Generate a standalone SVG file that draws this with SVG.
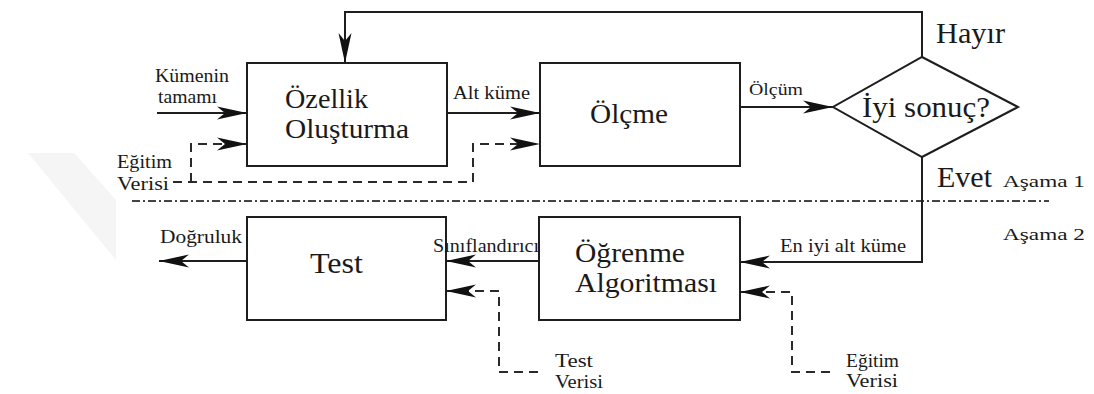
<svg xmlns="http://www.w3.org/2000/svg" width="1094" height="394" viewBox="0 0 1094 394" font-family="'Liberation Serif', Tinos, 'Times New Roman', serif">
  <style>
    .box { fill: none; stroke: #1e1e1e; stroke-width: 2; }
    .ln { fill: none; stroke: #1e1e1e; stroke-width: 2; }
    .dash { fill: none; stroke: #2a2a2a; stroke-width: 2; stroke-dasharray: 9 6; }
    .sep { fill: none; stroke: #444444; stroke-width: 2; stroke-dasharray: 8 3 2 3; }
    text { font-family: "Liberation Serif", Tinos, "Times New Roman", serif; fill: #1a1a1a; }
    .big { font-size: 28px; }
    .mid { font-size: 29px; }
    .sm { font-size: 18px; }
    .xs { font-size: 17px; }
  </style>
  <defs>
    <marker id="ah" markerUnits="userSpaceOnUse" markerWidth="32" markerHeight="14" viewBox="-31 -7 32 14" refX="0" refY="0" orient="auto">
      <path d="M0,0 L-30,-6.5 L-22,0 L-30,6.5 Z" fill="#111"/>
    </marker>
  </defs>

  <rect width="1094" height="394" fill="#ffffff"/>
  <!-- faint background band -->
  <polygon points="28,153 74,153 116,200 116,260" fill="#f5f5f5"/>

  <!-- stage separator -->
  <path class="sep" d="M132,201 H1049"/>

  <g id="connectors">
    <path class="ln" d="M922,57 V12 H345 V63" marker-end="url(#ah)"/>
    <path class="ln" d="M157,113 H247" marker-end="url(#ah)"/>
    <path class="dash" d="M191,182 V144 H247" marker-end="url(#ah)"/>
    <path class="dash" d="M173,182 H473 V144 H540" marker-end="url(#ah)"/>
    <path class="ln" d="M447,113 H540" marker-end="url(#ah)"/>
    <path class="ln" d="M740,107 H833" marker-end="url(#ah)"/>
    <path class="ln" d="M922,157 V262 H740" marker-end="url(#ah)"/>
    <path class="ln" d="M539,261 H446" marker-end="url(#ah)"/>
    <path class="ln" d="M247,261 H159" marker-end="url(#ah)"/>
    <path class="dash" d="M538,372 H499 V291 H446" marker-end="url(#ah)"/>
    <path class="dash" d="M830,372 H792 V292 H740" marker-end="url(#ah)"/>
  </g>

  <g id="ozellik">
    <rect class="box" x="247" y="63" width="200" height="103"/>
    <text class="big" x="285" y="108" textLength="83" lengthAdjust="spacingAndGlyphs">Özellik</text>
    <text class="big" x="285" y="138" textLength="124" lengthAdjust="spacingAndGlyphs">Oluşturma</text>
  </g>

  <g id="olcme">
    <rect class="box" x="540" y="63" width="200" height="103"/>
    <text class="big" x="590" y="123" textLength="78" lengthAdjust="spacingAndGlyphs">Ölçme</text>
  </g>

  <g id="karar">
    <polygon class="box" points="922,57 1018,107 922,157 833,107"/>
    <text class="mid" x="862" y="117" textLength="128" lengthAdjust="spacingAndGlyphs">İyi sonuç?</text>
  </g>

  <g id="test">
    <rect class="box" x="247" y="217" width="199" height="103"/>
    <text class="mid" x="310" y="273" textLength="53" lengthAdjust="spacingAndGlyphs">Test</text>
  </g>

  <g id="ogrenme">
    <rect class="box" x="539" y="217" width="201" height="103"/>
    <text class="big" x="575" y="262" textLength="110" lengthAdjust="spacingAndGlyphs">Öğrenme</text>
    <text class="big" x="575" y="292" textLength="142" lengthAdjust="spacingAndGlyphs">Algoritması</text>
  </g>

  <g id="labels">
    <text class="sm" x="155" y="82" textLength="74" lengthAdjust="spacingAndGlyphs">Kümenin</text>
    <text class="sm" x="158" y="103" textLength="59" lengthAdjust="spacingAndGlyphs">tamamı</text>
    <text class="sm" x="117" y="168" textLength="55" lengthAdjust="spacingAndGlyphs">Eğitim</text>
    <text class="sm" x="117" y="190" textLength="52" lengthAdjust="spacingAndGlyphs">Verisi</text>
    <text class="sm" x="453" y="99" textLength="77" lengthAdjust="spacingAndGlyphs">Alt küme</text>
    <text class="xs" x="749" y="95" textLength="54" lengthAdjust="spacingAndGlyphs">Ölçüm</text>
    <text class="mid" x="936" y="43" textLength="69" lengthAdjust="spacingAndGlyphs">Hayır</text>
    <text class="mid" x="937" y="187" textLength="55" lengthAdjust="spacingAndGlyphs">Evet</text>
    <text class="xs" x="1003" y="187" textLength="82" lengthAdjust="spacingAndGlyphs">Aşama 1</text>
    <text class="xs" x="1003" y="240" textLength="82" lengthAdjust="spacingAndGlyphs">Aşama 2</text>
    <text class="sm" x="160" y="243" textLength="82" lengthAdjust="spacingAndGlyphs">Doğruluk</text>
    <text class="sm" x="433" y="252" textLength="106" lengthAdjust="spacingAndGlyphs">Sınıflandırıcı</text>
    <text class="sm" x="780" y="252" textLength="126" lengthAdjust="spacingAndGlyphs">En iyi alt küme</text>
    <text class="sm" x="555" y="367" textLength="38" lengthAdjust="spacingAndGlyphs">Test</text>
    <text class="sm" x="555" y="388" textLength="48" lengthAdjust="spacingAndGlyphs">Verisi</text>
    <text class="sm" x="846" y="367" textLength="53" lengthAdjust="spacingAndGlyphs">Eğitim</text>
    <text class="sm" x="846" y="387" textLength="52" lengthAdjust="spacingAndGlyphs">Verisi</text>
  </g>
</svg>
